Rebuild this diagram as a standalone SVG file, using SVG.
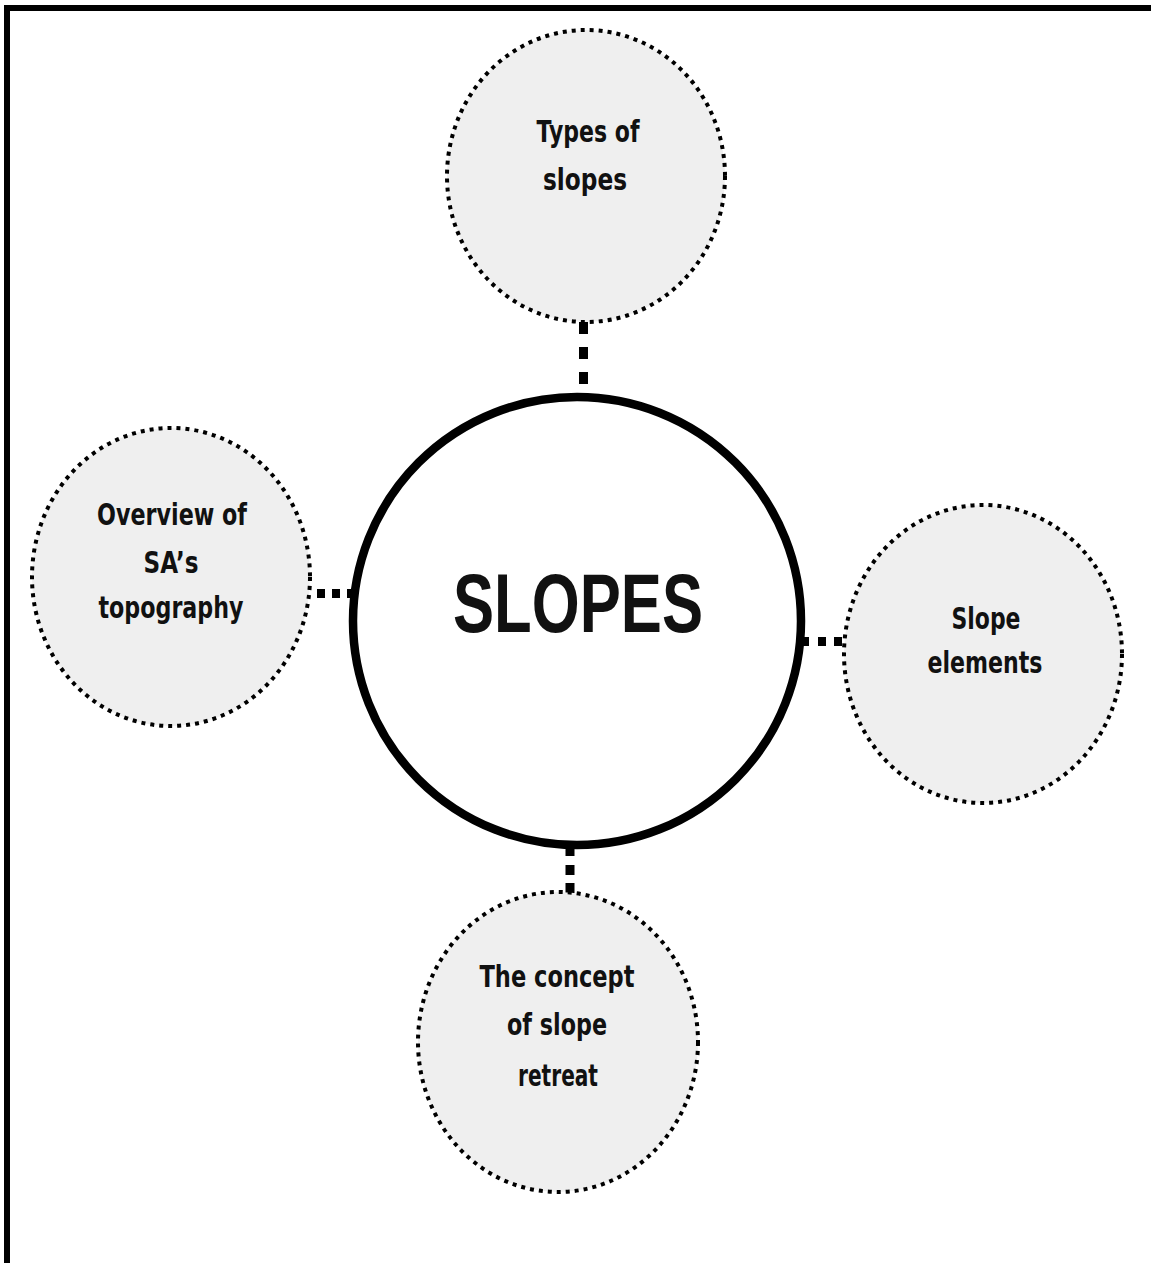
<svg xmlns="http://www.w3.org/2000/svg" width="1151" height="1263" viewBox="0 0 1151 1263">
<style>
.sat{fill:#efefef;stroke:#000;stroke-width:4;stroke-dasharray:4 5}
.lbl{font-family:"DejaVu Sans",sans-serif;font-weight:bold;font-size:31px;fill:#111;text-anchor:middle}
.big{font-family:"Liberation Sans",Arial,sans-serif;font-weight:bold;font-size:84px;fill:#111;text-anchor:middle}
.con{stroke:#000;fill:none}
</style>
<rect x="0" y="0" width="1151" height="1263" fill="#fff"/>
<g id="frame">
<line x1="4" y1="8" x2="1151" y2="8" stroke="#000" stroke-width="6"/>
<line x1="7" y1="5" x2="7" y2="1263" stroke="#000" stroke-width="6"/>
</g>
<g id="connectors">
<line class="con" x1="583.5" y1="322" x2="583.5" y2="392" stroke-width="9" stroke-dasharray="12 13"/>
<line class="con" x1="317" y1="593.5" x2="352" y2="593.5" stroke-width="9" stroke-dasharray="8 7"/>
<line class="con" x1="803" y1="641.5" x2="845" y2="641.5" stroke-width="9" stroke-dasharray="6 9 8 8 8 8"/>
<line class="con" x1="570" y1="848" x2="570" y2="893" stroke-width="9" stroke-dasharray="8 9 10 8 10"/>
</g>
<g id="center">
<circle cx="577" cy="621" r="224" fill="#fff" stroke="#000" stroke-width="8.5"/>
<text class="big" x="578" y="632" textLength="250" lengthAdjust="spacingAndGlyphs">SLOPES</text>
</g>
<g id="types">
<ellipse class="sat" cx="586" cy="176" rx="139" ry="146"/>
<text class="lbl" x="588" y="142" textLength="103" lengthAdjust="spacingAndGlyphs">Types of</text>
<text class="lbl" x="585" y="190" textLength="84" lengthAdjust="spacingAndGlyphs">slopes</text>
</g>
<g id="overview">
<ellipse class="sat" cx="171" cy="577" rx="139" ry="149"/>
<text class="lbl" x="172" y="525" textLength="150" lengthAdjust="spacingAndGlyphs">Overview of</text>
<text class="lbl" x="171" y="573" textLength="55" lengthAdjust="spacingAndGlyphs">SA’s</text>
<text class="lbl" x="171" y="618" textLength="145" lengthAdjust="spacingAndGlyphs">topography</text>
</g>
<g id="elements">
<ellipse class="sat" cx="983" cy="654" rx="139" ry="149"/>
<text class="lbl" x="986" y="629" textLength="69" lengthAdjust="spacingAndGlyphs">Slope</text>
<text class="lbl" x="985" y="673" textLength="115" lengthAdjust="spacingAndGlyphs">elements</text>
</g>
<g id="retreat">
<ellipse class="sat" cx="558" cy="1042" rx="140" ry="150"/>
<text class="lbl" x="557" y="987" textLength="155" lengthAdjust="spacingAndGlyphs">The concept</text>
<text class="lbl" x="557" y="1035" textLength="100" lengthAdjust="spacingAndGlyphs">of slope</text>
<text class="lbl" x="558" y="1086" textLength="80" lengthAdjust="spacingAndGlyphs">retreat</text>
</g>
</svg>
